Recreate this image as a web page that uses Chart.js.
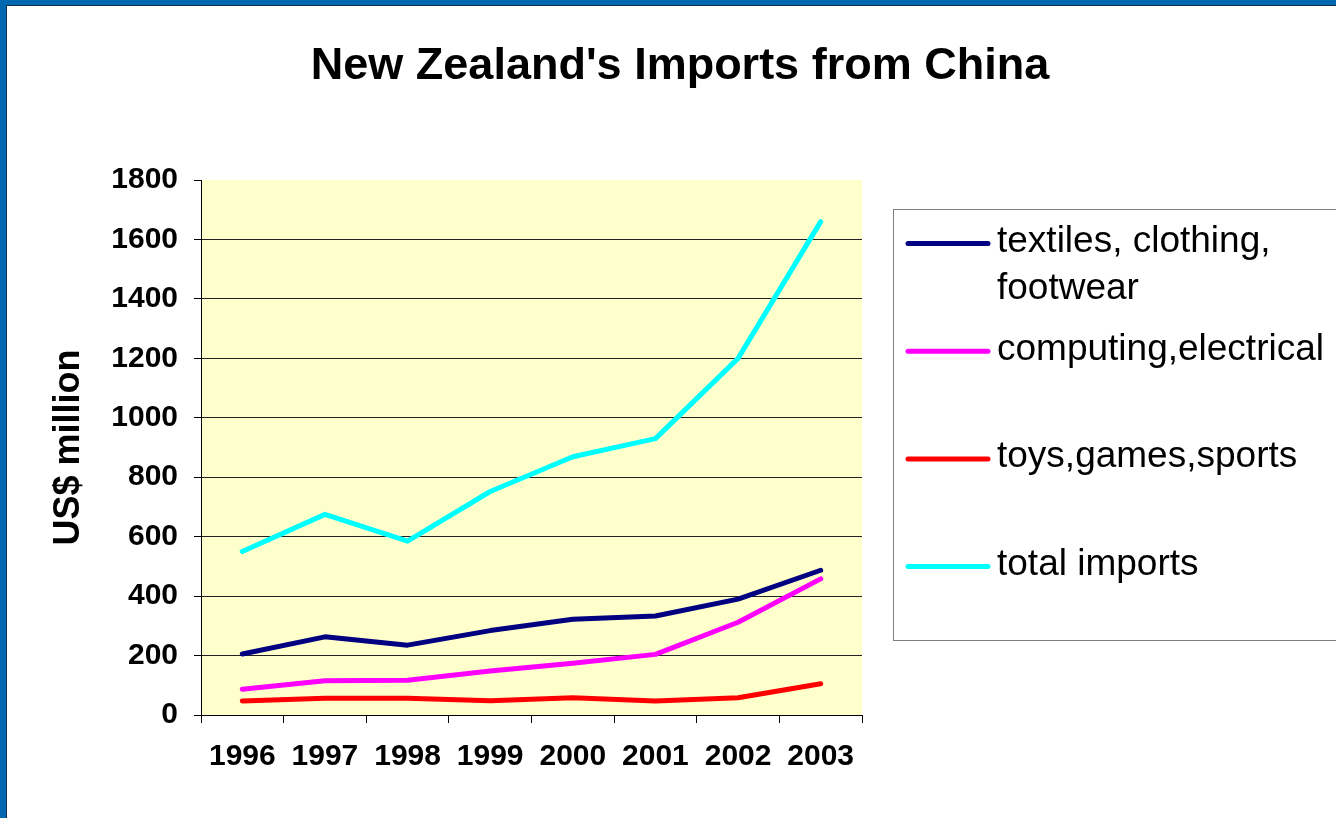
<!DOCTYPE html>
<html>
<head>
<meta charset="utf-8">
<script src="https://cdn.jsdelivr.net/npm/chart.js@4.4.1/dist/chart.umd.min.js"></script>
<style>
    html, body { margin: 0; padding: 0; background: #fff; }
    #page { position: relative; width: 1336px; height: 818px; overflow: hidden; background: #fff; }
    #frame { position: absolute; left: 0; top: 0; width: 1336px; height: 818px; box-sizing: border-box;
             border-left: 6px solid #0067b1; border-top: 5px solid #0067b1; }
    #frame-inner { position: absolute; left: 0; top: 0; right: 0; bottom: 0;
                   border-left: 1px solid #13304f; border-top: 1px solid #13304f; }
    #title { position: absolute; left: 0; top: 41px; width: 1360px; text-align: center;
             font: bold 45px/45px "Liberation Sans", Arial, sans-serif; color: #000; }
    canvas { position: absolute; left: 0; top: 0; }
</style>
</head>
<body>
<div id="page">
    <canvas id="imports-chart" width="1336" height="818"></canvas>
    <div id="frame"><div id="frame-inner"></div></div>
    <div id="title">New Zealand's Imports from China</div>
</div>
<script>
// Data (US$ million)
const years = ['1996', '1997', '1998', '1999', '2000', '2001', '2002', '2003'];
const textiles = [205, 263, 235, 284, 322, 333, 390, 487];
const computing = [87, 115, 117, 148, 174, 204, 312, 458];
const toys = [47, 56, 56, 48, 58, 47, 58, 105];
const totalImports = [550, 675, 585, 752, 869, 930, 1200, 1660];

const seriesNames = ['textiles, clothing,\nfootwear', 'computing,electrical', 'toys,games,sports', 'total imports'];
const seriesColors = ['#000080', '#ff00ff', '#ff0000', '#00ffff'];

const yTicks = [0, 200, 400, 600, 800, 1000, 1200, 1400, 1600, 1800];

const FONT = "'Liberation Sans', Arial, sans-serif";

// Pale yellow plot background
const plotBackground = {
    id: 'plotBackground',
    beforeDraw(chart) {
        const { ctx, chartArea: a } = chart;
        ctx.save();
        ctx.fillStyle = '#ffffcc';
        ctx.fillRect(a.left, a.top, a.right - a.left, a.bottom - a.top);
        ctx.restore();
    }
};

// Boxed legend on the right, drawn from the datasets
const boxLegend = {
    id: 'boxLegend',
    afterDraw(chart) {
        const ctx = chart.ctx;
        ctx.save();
        ctx.strokeStyle = '#808080';
        ctx.lineWidth = 1;
        ctx.strokeRect(893.5, 209.5, 480, 431);

        ctx.font = '37px ' + FONT;
        ctx.fillStyle = '#000';
        ctx.textBaseline = 'alphabetic';
        ctx.textAlign = 'left';
        chart.data.datasets.forEach((ds, i) => {
            const y = 243.5 + i * 107.7;
            ctx.strokeStyle = ds.borderColor;
            ctx.lineWidth = 5;
            ctx.lineCap = 'round';
            ctx.beginPath();
            ctx.moveTo(908, y);
            ctx.lineTo(988, y);
            ctx.stroke();
            ds.label.split('\n').forEach((line, j) => {
                ctx.fillText(line, 997, y + 8.5 + j * 46.6);
            });
        });
        ctx.restore();
    }
};

const ctx = document.getElementById('imports-chart').getContext('2d');
const datasets = [textiles, computing, toys, totalImports].map((values, i) => ({
    label: seriesNames[i],
    data: values,
    borderColor: seriesColors[i],
    backgroundColor: seriesColors[i],
    borderWidth: 5,
    borderCapStyle: 'round',
    borderJoinStyle: 'round',
    pointRadius: 0,
    tension: 0,
    fill: false
}));

new Chart(ctx, {
    type: 'line',
    data: { labels: years, datasets: datasets },
    options: {
        responsive: false,
        animation: false,
        devicePixelRatio: 1,
        layout: { padding: { left: 0, top: 180, right: 474, bottom: 0 } },
        plugins: {
            legend: { display: false },
            tooltip: { enabled: false },
            title: { display: false }
        },
        scales: {
            x: {
                offset: true,
                grid: {
                    offset: true,
                    drawOnChartArea: false,
                    tickLength: 8,
                    color: '#000',
                    tickColor: '#000'
                },
                border: { color: '#000', width: 1 },
                ticks: {
                    color: '#000',
                    padding: 16,
                    maxRotation: 0,
                    font: { family: FONT, size: 30, weight: 'bold' }
                },
                afterFit(scale) { scale.height = 103; }
            },
            y: {
                min: 0,
                max: 1800,
                afterBuildTicks(scale) { scale.ticks = yTicks.map(v => ({ value: v })); },
                grid: {
                    color: c => (c.tick && c.tick.value === 1800) ? 'rgba(0,0,0,0)' : '#222',
                    tickColor: '#000',
                    tickLength: 7,
                    lineWidth: 1
                },
                border: { color: '#000', width: 1 },
                ticks: {
                    color: '#000',
                    padding: 16,
                    callback: v => String(v),
                    font: { family: FONT, size: 30, weight: 'bold' }
                },
                title: {
                    display: true,
                    text: 'US$ million',
                    color: '#000',
                    padding: { top: 47, bottom: 0 },
                    font: { family: FONT, size: 36, weight: 'bold' }
                },
                afterFit(scale) { scale.width = 201; }
            }
        }
    },
    plugins: [plotBackground, boxLegend]
});
</script>
</body>
</html>
